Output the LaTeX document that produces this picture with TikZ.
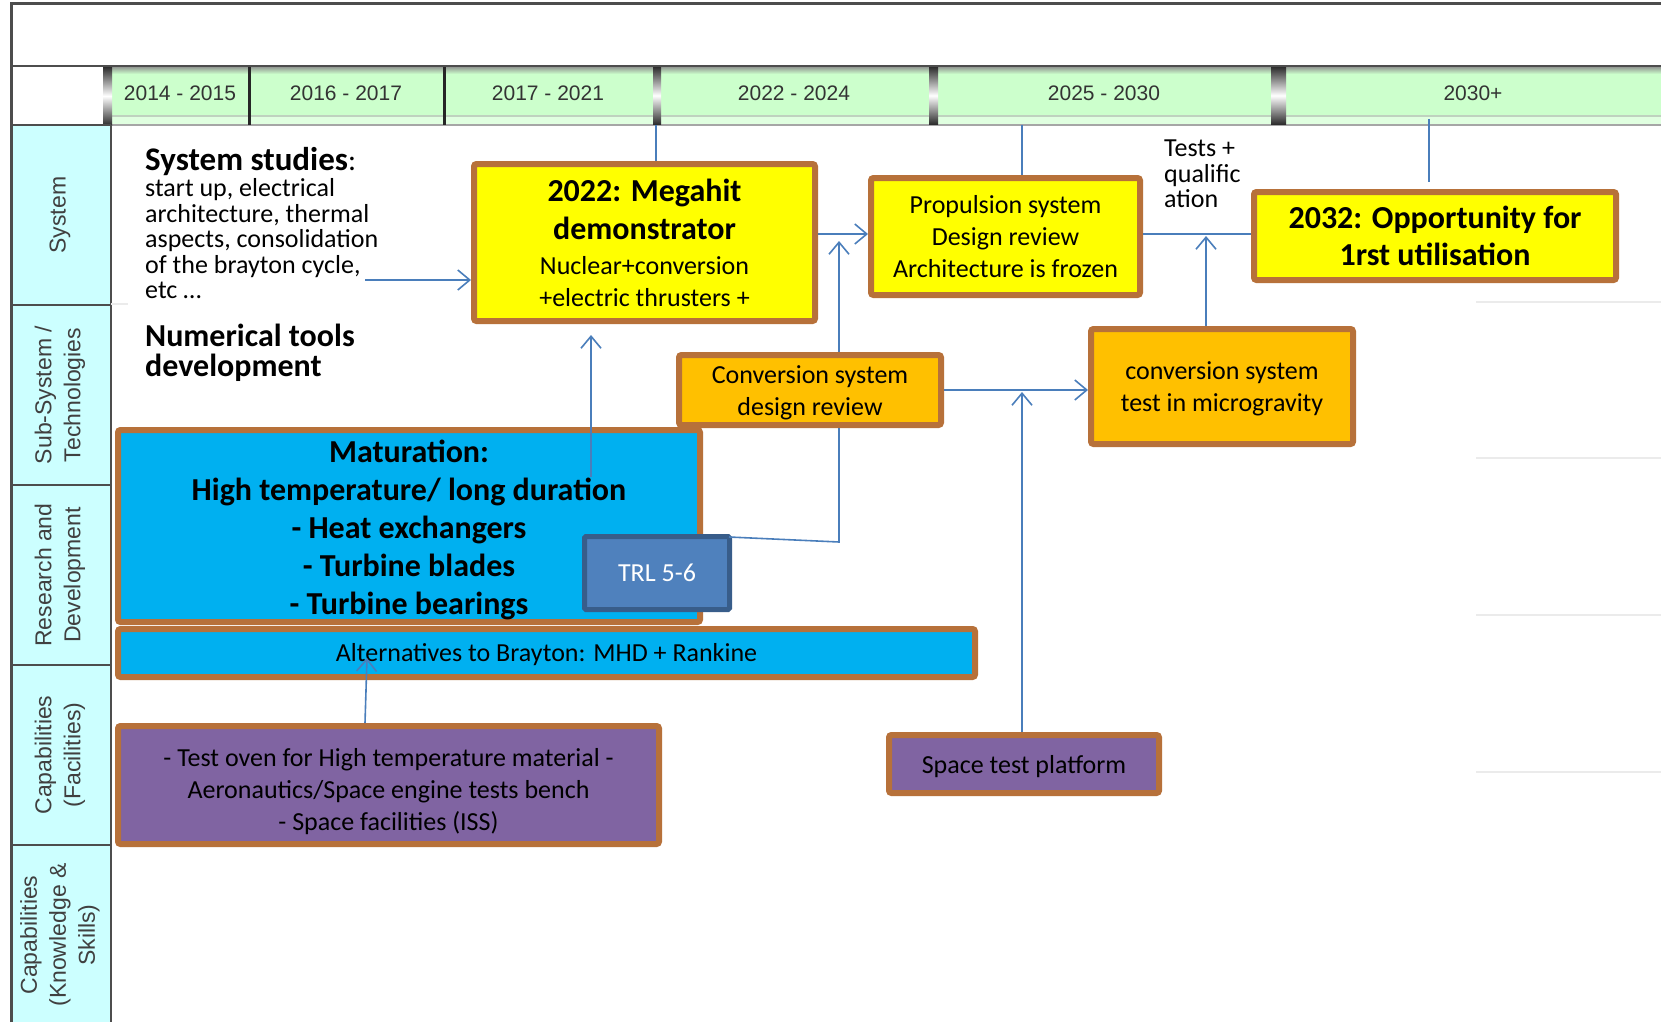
\documentclass[tikz,border=0pt]{standalone}
\usepackage{fontspec}
\setmainfont{Carlito}
\newfontfamily\arialf{Liberation Sans}
\usetikzlibrary{arrows.meta}
\definecolor{yel}{HTML}{FFFF00}
\definecolor{org}{HTML}{FFC000}
\definecolor{skyb}{HTML}{00B0F0}
\definecolor{purp}{HTML}{8064A2}
\definecolor{trlf}{HTML}{4F81BD}
\definecolor{trlb}{HTML}{385D8A}
\definecolor{brdr}{HTML}{B7713A}
\definecolor{lnk}{HTML}{4A7EBB}
\definecolor{cyancell}{HTML}{CCFFFF}
\definecolor{yeargreen}{HTML}{CCFFCC}
\definecolor{framegray}{HTML}{4D4D4D}
\tikzset{
 box/.style={draw=brdr, line width=6pt, rounded corners=2.5pt, inner sep=0pt, align=center, anchor=north west, font=\fontsize{26}{32}\selectfont},
 conn/.style={draw=lnk, line width=1.6pt},
 arr/.style={conn, -{Straight Barb[length=12pt,width=20pt,line width=1.6pt]}},
 yearlbl/.style={font=\arialf\fontsize{21}{25}\selectfont, text=black!80},
 sidelbl/.style={rotate=90, align=center, font=\arialf\fontsize{23}{29}\selectfont, text=black!75},
 chrome/.style={top color=black!85, bottom color=black!85, middle color=white},
 gridline/.style={draw=framegray, line width=2.5pt},
 faint/.style={draw=black!8, line width=2pt},
}
\begin{document}
\begin{tikzpicture}[x=1pt,y=-1pt]
\useasboundingbox (0,0) rectangle (1661,1022);
\fill[white] (0,0) rectangle (1661,1022);
% year bar
\fill[yeargreen] (103,66) rectangle (1661,125);
\shade[top color=black!45, bottom color=yeargreen] (103,66) rectangle (1661,74);
\draw[green!30!black!25, line width=1.5pt] (103,116) -- (1661,116);
\fill[yeargreen!60!white] (103,117) rectangle (1661,124);
\draw[black!35, line width=1.5pt] (103,125) -- (1661,125);
\shade[chrome] (103,66) rectangle (112,126);
\fill[black!85] (248,66) rectangle (251,125);
\fill[black!85] (443,66) rectangle (446,125);
\shade[chrome] (653,66) rectangle (661,125);
\shade[chrome] (929,66) rectangle (938,125);
\shade[chrome] (1271,66) rectangle (1286,125);
\node[yearlbl] (y1) at (180,93) {2014 - 2015};
\node[yearlbl] (y2) at (346,93) {2016 - 2017};
\node[yearlbl] (y3) at (548,93) {2017 - 2021};
\node[yearlbl] (y4) at (794,93) {2022 - 2024};
\node[yearlbl] (y5) at (1104,93) {2025 - 2030};
\node[yearlbl] (y6) at (1473,93) {2030+};
% frame
\draw[gridline, line width=3pt] (11,1022) -- (11,4) -- (1661,4);
\draw[gridline] (11,66) -- (1661,66);
% side column
\fill[cyancell] (11,125) rectangle (111,1022);
\foreach \yy in {125,305,485,665,845} {\draw[gridline] (11,\yy) -- (111,\yy);}
\draw[gridline] (111,125) -- (111,1022);
\draw[gridline, line width=3pt] (11,66) -- (11,1022);
\node[sidelbl] (s1) at (60,215) {System};
\node[sidelbl] (s2) at (60,395) {Sub-System /\\Technologies};
\node[sidelbl] (s3) at (60,575) {Research and\\Development};
\node[sidelbl] (s4) at (60,755) {Capabilities\\(Facilities)};
\node[sidelbl] (s5) at (60,935) {Capabilities\\(Knowledge \&\\Skills)};
% faint lines
\draw[faint] (111,304) -- (128,304);
\foreach \yy in {302,458,615,772} {\draw[faint] (1476,\yy) -- (1661,\yy);}
% texts
\node[anchor=north west, inner sep=0pt, align=left, font=\fontsize{26}{25.5}\selectfont] (sys) at (145,147)
 {{\fontsize{33}{28}\selectfont\bfseries System studies}{\fontsize{30}{28}\selectfont:}\\[1pt]
 start up, electrical\\ architecture, thermal\\ aspects, consolidation\\ of the brayton cycle,\\ etc \dots};
\node[anchor=north west, inner sep=0pt, align=left, font=\fontsize{32}{30}\selectfont\bfseries] (num) at (145,324)
 {Numerical tools\\ development};
\node[anchor=north west, inner sep=0pt, align=left, font=\fontsize{26}{25.5}\selectfont] (tq) at (1164,140)
 {Tests +\\ qualific\\ ation};
% boxes
\node[box, fill=yel, minimum width=341, minimum height=157] (mega) at (471,161)
 {{\fontsize{32}{38}\selectfont\bfseries 2022: Megahit}\\[6pt]{\fontsize{32}{38}\selectfont\bfseries demonstrator}\\[3pt]
  Nuclear+conversion\\ +electric thrusters +};
\node[box, fill=yel, minimum width=269, minimum height=117] (prop) at (868,175)
 {Propulsion system\\ Design review\\ Architecture is frozen};
\node[box, fill=yel, minimum width=362, minimum height=88, font=\fontsize{32}{37}\selectfont\bfseries] (opp) at (1251,189)
 {2032: Opportunity for\\ 1rst utilisation};
\node[box, fill=org, minimum width=262, minimum height=70] (conv) at (676,352)
 {\rule{0pt}{24pt}Conversion system\\ design review};
\node[box, fill=org, minimum width=262, minimum height=115] (micro) at (1088,326)
 {\rule{0pt}{21.5pt}conversion system\\ test in microgravity};
\node[box, fill=skyb, minimum width=582, minimum height=192, font=\fontsize{32}{38}\selectfont\bfseries] (mat) at (115,427)
 {\rule{0pt}{30pt}Maturation:\\ High temperature/ long duration\\ - Heat exchangers\\ - Turbine blades\\ - Turbine bearings};
\node[box, fill=skyb, minimum width=857, minimum height=48] (alt) at (115,626)
 {\rule{0pt}{22pt}Alternatives to Brayton: MHD + Rankine};
\node[box, draw=trlb, line width=5pt, rounded corners=1.5pt, fill=trlf, text=white, minimum width=145, minimum height=73] (trl) at (582,534)
 {TRL 5-6};
\node[box, fill=purp, minimum width=541, minimum height=118] (oven) at (115,723)
 {\rule{0pt}{31pt}- Test oven for High temperature material -\\ Aeronautics/Space engine tests bench\\ - Space facilities (ISS)};
\node[box, fill=purp, minimum width=270, minimum height=58] (stp) at (886,732)
 {\rule{0pt}{24pt}Space test platform};
% coordinates
\coordinate (ssend) at (365,280);
\coordinate (mk1) at (656,125);
\coordinate (mk2) at (1022,125);
\coordinate (mk3) at (1429,119);
\coordinate (mk3e) at (1429,182);
\coordinate (mkA) at (839,241);
\coordinate (matS) at (591,477);
\coordinate (matE) at (591,335);
\coordinate (trlC) at (839,542);
\coordinate (trlS) at (729,537);
\coordinate (stpE) at (1022,392);
\coordinate (micE) at (1206,236);
\coordinate (ovS) at (365,723);
\coordinate (ovE) at (367,658);
% connectors
\draw[arr] (ssend) -- (mega.west |- ssend);
\draw[conn] (mk1) -- (mk1 |- mega.north);
\draw[conn] (mk2) -- (mk2 |- prop.north);
\draw[conn] (mk3) -- (mk3e);
\draw[arr] (mega.east |- 0,234) -- (prop.west |- 0,234);
\draw[arr] (mkA |- conv.north) -- (mkA);
\draw[arr] (matS) -- (matE);
\draw[conn] (trlS) -- (trlC) -- (trlC |- conv.south);
\draw[arr] (conv.east) -- (micro.west |- conv.east);
\draw[arr] (stpE |- stp.north) -- (stpE);
\draw[conn] (prop.east |- 0,234) -- (opp.west |- 0,234);
\draw[arr] (micE |- micro.north) -- (micE);
\draw[arr] (ovS) -- (ovE);
\end{tikzpicture}
\end{document}
